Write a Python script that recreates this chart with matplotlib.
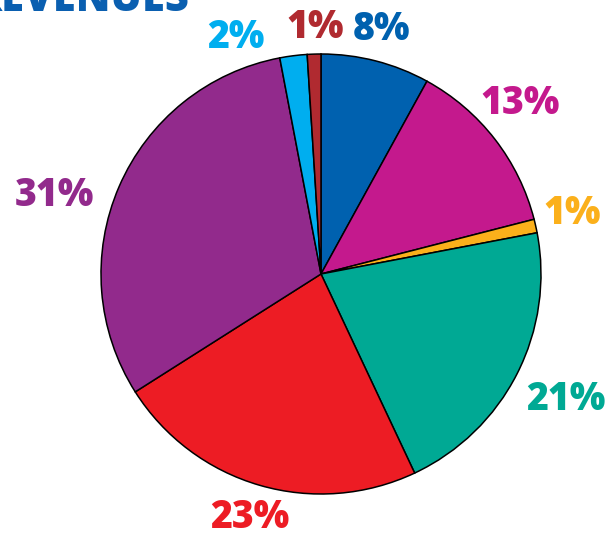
import matplotlib.pyplot as plt

# slice data, clockwise from 12 o'clock
shares = [8, 13, 1, 21, 23, 31, 2, 1]
labels = ['8%', '13%', '1%', '21%', '23%', '31%', '2%', '1%']
colors = ['#0061af', '#c4198d', '#fbb01b', '#00a994', '#ed1c24',
          '#922a8c', '#00aeef', '#b02a30']

# label anchor points in pixels (x from left, y from top)
label_pos = [(381, 30), (520, 104), (572, 214), (566, 400),
             (250, 518), (54, 195), (236, 37), (315, 27)]

W, H = 610, 536
fig = plt.figure(figsize=(W / 100, H / 100), dpi=100)
ax = fig.add_axes([0, 0, 1, 1])

ax.pie(shares, colors=colors, startangle=90, counterclock=False,
       center=(321, H - 274), radius=220, frame=False,
       wedgeprops=dict(edgecolor='black', linewidth=1.1))

ax.set_xlim(0, W)
ax.set_ylim(0, H)
ax.set_aspect('equal')
ax.axis('off')

for lab, col, (x, y) in zip(labels, colors, label_pos):
    ax.text(x, H - y, lab, color=col, fontsize=27, fontweight='heavy',
            family='Open Sans', ha='center', va='center')

# title, clipped by the top edge
ax.text(190, H - 11, 'REVENUES', color='#0a5fb0', fontsize=30,
        fontweight='heavy', family='Open Sans', ha='right', va='baseline')

fig.savefig('out.png', dpi=100)
